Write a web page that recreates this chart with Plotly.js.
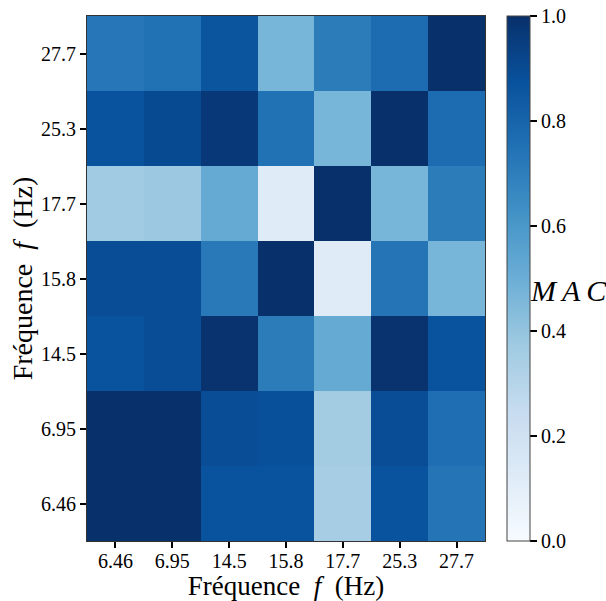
<!DOCTYPE html>
<html>
<head>
<meta charset="utf-8">
<script src="https://cdn.plot.ly/plotly-3.0.1.min.js"></script>
<style>html,body{margin:0;padding:0;background:#fff;}</style>
</head>
<body>
<div id="chart" style="width:606px;height:601px;"></div>
<script>
// Frequency labels (Hz)
const freqLabels = ['6.46', '6.95', '14.5', '15.8', '17.7', '25.3', '27.7'];

// MAC values; each row corresponds to a y label (bottom to top), columns to x labels
const rowF646 = [1.00, 1.00, 0.87, 0.87, 0.35, 0.87, 0.74];
const rowF695 = [1.00, 1.00, 0.89, 0.88, 0.36, 0.89, 0.76];
const rowF145 = [0.87, 0.89, 0.99, 0.71, 0.52, 0.99, 0.87];
const rowF158 = [0.89, 0.89, 0.72, 1.00, 0.12, 0.74, 0.47];
const rowF177 = [0.37, 0.38, 0.52, 0.12, 1.00, 0.47, 0.71];
const rowF253 = [0.87, 0.90, 0.97, 0.75, 0.47, 1.00, 0.77];
const rowF277 = [0.73, 0.75, 0.86, 0.47, 0.71, 0.77, 1.00];

const zValues = [rowF646, rowF695, rowF145, rowF158, rowF177, rowF253, rowF277];

const blues = [
  [0.0, '#f7fbff'], [0.125, '#deebf7'], [0.25, '#c6dbef'], [0.375, '#9ecae1'],
  [0.5, '#6baed6'], [0.625, '#4292c6'], [0.75, '#2171b5'], [0.875, '#08519c'],
  [1.0, '#08306b']
];

const serif = 'Liberation Serif, Times New Roman, serif';

const trace = {
  type: 'heatmap',
  x: freqLabels,
  y: freqLabels,
  z: zValues,
  zmin: 0, zmax: 1,
  colorscale: blues,
  showscale: true,
  colorbar: {
    x: 1.055, xanchor: 'left', xpad: 0, ypad: 0,
    y: 0.5, yanchor: 'middle', len: 1, lenmode: 'fraction',
    thickness: 23, thicknessmode: 'pixels',
    outlinewidth: 1, outlinecolor: '#444',
    tickmode: 'array',
    tickvals: [0, 0.2, 0.4, 0.6, 0.8, 1.0],
    ticktext: ['0.0', '0.2', '0.4', '0.6', '0.8', '1.0'],
    ticks: 'outside', ticklen: 7, tickwidth: 2, tickcolor: '#000',
    tickfont: {family: serif, size: 20, color: '#000'}
  }
};

const layout = {
  width: 606, height: 601,
  margin: {l: 87, r: 121, t: 16, b: 60, pad: 0},
  paper_bgcolor: '#fff', plot_bgcolor: '#fff',
  font: {family: serif, color: '#000'},
  xaxis: {
    type: 'category',
    title: {text: 'Fréquence  <i>f</i>  (Hz)', font: {family: serif, size: 27, color: '#000'}, standoff: 0},
    tickfont: {family: serif, size: 20, color: '#000'},
    ticks: 'outside', ticklen: 6, tickwidth: 2, tickcolor: '#000',
    ticklabelstandoff: -4,
    showline: true, linecolor: '#333', linewidth: 1, mirror: true,
    showgrid: false, zeroline: false, automargin: false
  },
  yaxis: {
    type: 'category',
    title: {text: 'Fréquence  <i>f</i>  (Hz)', font: {family: serif, size: 28, color: '#000'}, standoff: 0},
    tickfont: {family: serif, size: 20, color: '#000'},
    ticks: 'outside', ticklen: 6, tickwidth: 2, tickcolor: '#000',
    showline: true, linecolor: '#333', linewidth: 1, mirror: true,
    showgrid: false, zeroline: false, automargin: false
  },
  annotations: [{
    xref: 'paper', yref: 'paper', x: 1.211, y: 0.478, xanchor: 'center', yanchor: 'middle',
    text: '<i>M&#8201;A&#8201;C</i>', showarrow: false,
    font: {family: serif, size: 30, color: '#000'}
  }]
};

Plotly.newPlot('chart', [trace], layout, {displayModeBar: false, staticPlot: true});
</script>
</body>
</html>
